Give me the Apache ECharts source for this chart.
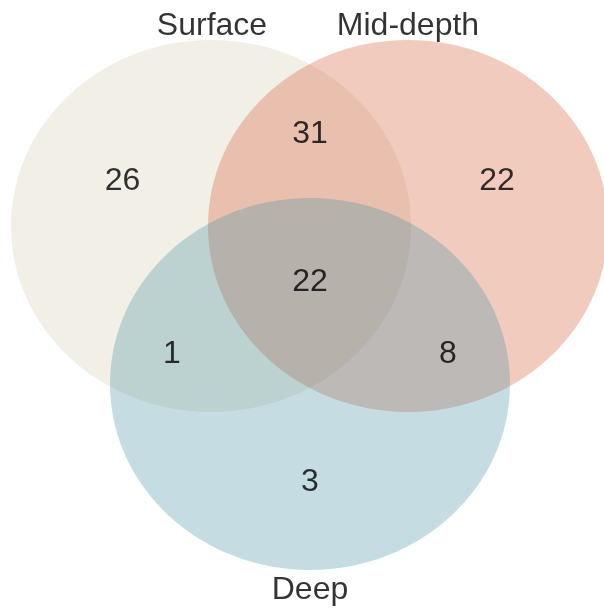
<!DOCTYPE html>
<html>
<head>
<meta charset="utf-8">
<script src="https://cdn.jsdelivr.net/npm/echarts@6/dist/echarts.min.js"></script>
<style>
html,body{margin:0;padding:0;background:#fff;}
#chart{width:604px;height:610px;}
</style>
</head>
<body>
<div id="chart"></div>
<script>
// Sets (Venn layout in abstract units; radius 1)
const setNames = ['Surface', 'Mid-depth', 'Deep'];
const setCenterX = [-0.495, 0.49, 0];
const setCenterY = [0.425, 0.425, -0.425];
const setRadius = [1, 1, 1];
const setColors = ['rgba(208,202,172,0.3)', 'rgba(212,82,42,0.3)', 'rgba(62,142,158,0.3)'];
const setLabelX = [-0.49, 0.49, 0];
const setLabelY = [1.50, 1.50, -1.533];

// Region counts
const regionNames = ['Surface only', 'Mid-depth only', 'Deep only', 'Surface & Mid-depth', 'Surface & Deep', 'Mid-depth & Deep', 'All three'];
const regionCounts = [26, 22, 3, 31, 1, 8, 22];
const regionX = [-0.9375, 0.935, 0, 0, -0.69, 0.69, 0];
const regionY = [0.666, 0.666, -0.952, 0.919, -0.264, -0.264, 0.123];

const chart = echarts.init(document.getElementById('chart'));
const labelFont = { fontFamily: '"Liberation Sans", Arial, sans-serif', fontSize: 32, color: '#000000', textBorderWidth: 0 };

chart.setOption({
  animation: false,
  grid: { left: 0, right: 0, top: 0, bottom: 0 },
  xAxis: { type: 'value', min: -1.55, max: 1.47, show: false },
  yAxis: { type: 'value', min: -1.64, max: 1.64, show: false },
  series: [
    {
      type: 'custom',
      data: setNames.map((n, i) => ({ name: n, value: [setCenterX[i], setCenterY[i], setRadius[i]] })),
      renderItem: function (params, api) {
        const c = api.coord([api.value(0), api.value(1)]);
        const s = api.size([api.value(2), api.value(2)]);
        return {
          type: 'ellipse',
          shape: { cx: c[0], cy: c[1], rx: s[0], ry: s[1] },
          style: { fill: setColors[params.dataIndex] }
        };
      },
      silent: true
    },
    {
      type: 'scatter',
      symbolSize: 0,
      data: regionCounts.map((v, i) => ({ name: regionNames[i], value: [regionX[i], regionY[i], v] })),
      label: Object.assign({ show: true, position: 'inside', formatter: p => String(p.value[2]) }, labelFont),
      silent: true
    },
    {
      type: 'scatter',
      symbolSize: 0,
      data: setNames.map((n, i) => ({ name: n, value: [setLabelX[i], setLabelY[i]] })),
      label: Object.assign({ show: true, position: 'inside', formatter: p => p.name }, labelFont),
      silent: true
    }
  ]
});
</script>
</body>
</html>
